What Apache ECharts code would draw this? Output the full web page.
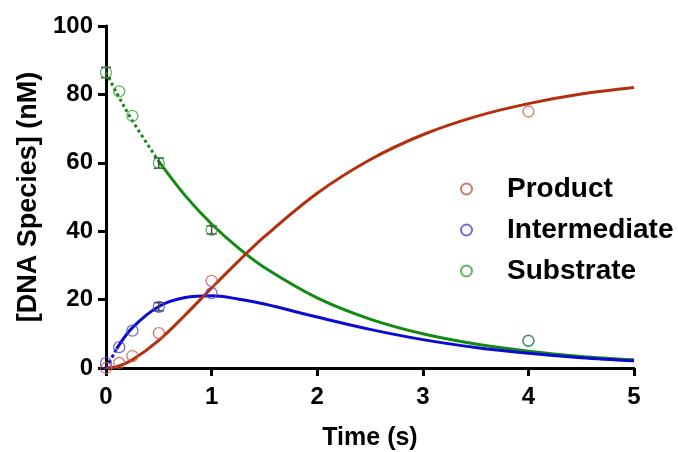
<!DOCTYPE html>
<html>
<head>
<meta charset="utf-8">
<script src="https://cdn.jsdelivr.net/npm/echarts@6/dist/echarts.min.js"></script>
<style>html,body{margin:0;padding:0;background:#fff}#c{width:678px;height:452px}</style>
</head>
<body>
<div id="c"></div>
<script>
// Measured data points
const dataTimes = [0, 0.125, 0.25, 0.5, 1, 4];
const productData = [0, 1.5, 3.5, 10.2, 25.5, 75];
const intermediateData = [1.4, 6.1, 10.9, 17.9, 21.9, 8];
const substrateData = [86.4, 80.9, 73.7, 59.9, 40.4, 7.9];
// Error bars (half-widths) for points that show them
const substrateErr = [1.5, 0, 0, 1.5, 1.2, 0];
const intermediateErr = [0, 0, 0, 1.2, 0, 0];

// Fitted curves
const fitTimes = [0, 0.1, 0.25, 0.5, 0.75, 1, 1.25, 1.5, 2, 2.5, 3, 3.5, 4, 4.5, 5];
const productFit = [0, 0.4, 2.4, 8.1, 15.5, 23.4, 31.1, 38.4, 51.1, 60.9, 68.2, 73.5, 77.3, 80.1, 82.0];
const intermediateFit = [0, 5.6, 11.8, 18.0, 20.6, 21.1, 20.2, 18.7, 14.9, 11.3, 8.3, 6.0, 4.3, 3.0, 2.1];
const substrateFit = [86.5, 80.5, 72.3, 60.4, 50.4, 42.1, 35.2, 29.4, 20.5, 14.3, 10.0, 7.0, 4.9, 3.4, 2.4];

const xTicks = [0, 1, 2, 3, 4, 5];
const yTicks = [0, 20, 40, 60, 80, 100];

const pairs = (xs, ys) => xs.map((x, i) => [x, ys[i]]);
const segment = (xs, ys, a, b) => pairs(xs, ys).filter(p => p[0] >= a && p[0] <= b);

const cProdLine = '#b3300f', cIntLine = '#0a0ad0', cSubLine = '#138a13';
const cProdPt = '#c8564a', cIntPt = '#4a4ac8', cSubPt = '#3aa23a';
const FONT = 'Liberation Sans, Arial, sans-serif';

function errSeries(ys, errs, color) {
  const d = [];
  dataTimes.forEach((t, i) => { if (errs[i] > 0) d.push([t, ys[i] - errs[i], ys[i] + errs[i]]); });
  return {
    type: 'custom', silent: true, z: 3,
    renderItem: (params, api) => {
      const x = api.value(0);
      const lo = api.coord([x, api.value(1)]);
      const hi = api.coord([x, api.value(2)]);
      const w = 5;
      const st = { stroke: color, lineWidth: 1.5 };
      return { type: 'group', children: [
        { type: 'line', shape: { x1: lo[0], y1: lo[1], x2: hi[0], y2: hi[1] }, style: st },
        { type: 'line', shape: { x1: lo[0] - w, y1: lo[1], x2: lo[0] + w, y2: lo[1] }, style: st },
        { type: 'line', shape: { x1: hi[0] - w, y1: hi[1], x2: hi[0] + w, y2: hi[1] }, style: st }
      ]};
    },
    data: d
  };
}

function lineSeries(data, color, type, z) {
  return { type: 'line', data, smooth: 0.35, showSymbol: false, symbol: 'none', silent: true, z: z,
    lineStyle: { color, width: 3, type: type || 'solid' } };
}

function scatter(name, ys, color, z) {
  return { name, type: 'scatter', data: pairs(dataTimes, ys), symbol: 'circle', symbolSize: 11, z: z,
    itemStyle: { color: 'rgba(255,255,255,0)', borderColor: color, borderWidth: 1.3 } };
}

const chart = echarts.init(document.getElementById('c'));
chart.setOption({
  animation: false,
  grid: { left: 106, right: 44, top: 26, bottom: 84, containLabel: false, outerBoundsMode: 'none' },
  legend: {
    orient: 'vertical', left: 455, top: 170, itemGap: 13,
    data: ['Product', 'Intermediate', 'Substrate'],
    itemWidth: 11, itemHeight: 11,
    textStyle: { fontFamily: FONT, fontWeight: 'bold', fontSize: 28, color: '#000', padding: [0, 0, 0, 30] },
    selectedMode: false
  },
  xAxis: {
    type: 'value', min: 0, max: 5, interval: 1,
    name: 'Time (s)', nameLocation: 'middle', nameGap: 58,
    nameTextStyle: { fontFamily: FONT, fontWeight: 'bold', fontSize: 25, color: '#000' },
    axisLine: { show: true, onZero: false, lineStyle: { color: '#000', width: 3 } },
    axisTick: { show: true, length: 8, lineStyle: { color: '#000', width: 3 } },
    axisLabel: { fontFamily: FONT, fontWeight: 'bold', fontSize: 24, color: '#000', margin: 17,
      formatter: v => xTicks.includes(v) ? String(v) : '' },
    splitLine: { show: false }
  },
  yAxis: {
    type: 'value', min: 0, max: 100, interval: 20,
    name: '[DNA Species] (nM)', nameLocation: 'middle', nameGap: 64,
    nameTextStyle: { fontFamily: FONT, fontWeight: 'bold', fontSize: 27, color: '#000' },
    axisLine: { show: true, onZero: false, lineStyle: { color: '#000', width: 3 } },
    axisTick: { show: true, length: 8, lineStyle: { color: '#000', width: 3 } },
    axisLabel: { fontFamily: FONT, fontWeight: 'bold', fontSize: 24, color: '#000', margin: 13,
      formatter: v => yTicks.includes(v) ? String(v) : '' },
    splitLine: { show: false }
  },
  series: [
    lineSeries(segment(fitTimes, substrateFit, 0, 0.5), cSubLine, 'dotted', 2),
    lineSeries(segment(fitTimes, substrateFit, 0.5, 5), cSubLine, 'solid', 2),
    lineSeries(segment(fitTimes, intermediateFit, 0, 0.1), cIntLine, 'dotted', 2),
    lineSeries(segment(fitTimes, intermediateFit, 0.1, 5), cIntLine, 'solid', 2),
    lineSeries(pairs(fitTimes, productFit), cProdLine, 'solid', 2),
    errSeries(substrateData, substrateErr, '#444'),
    errSeries(intermediateData, intermediateErr, '#444'),
    scatter('Intermediate', intermediateData, cIntPt, 4),
    scatter('Product', productData, cProdPt, 4),
    scatter('Substrate', substrateData, cSubPt, 5)
  ]
});
</script>
</body>
</html>
